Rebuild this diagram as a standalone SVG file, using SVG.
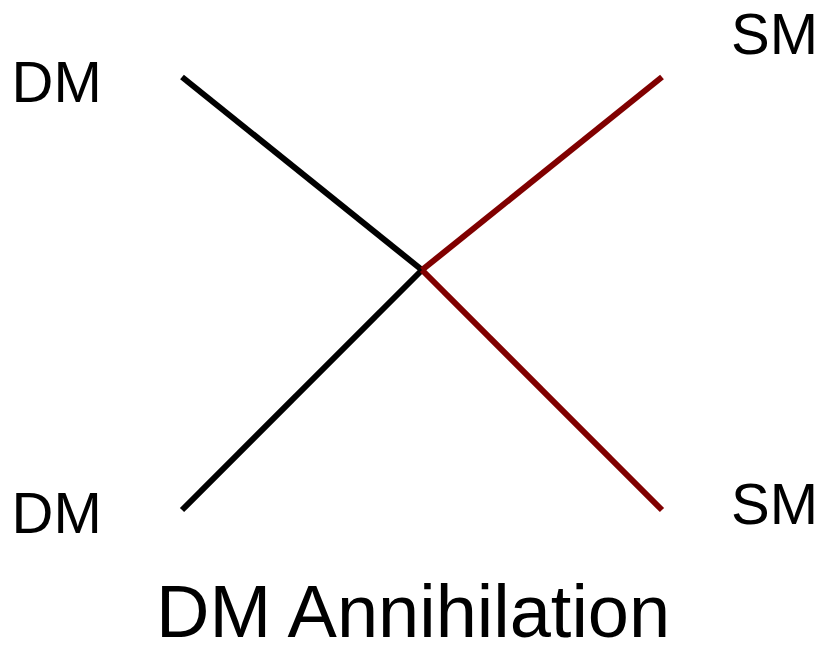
<svg xmlns="http://www.w3.org/2000/svg" width="825" height="645" viewBox="0 0 825 645">
<style>
text{font-family:"Liberation Sans",Arial,sans-serif;fill:#000}
.lbl{font-size:58px}
.title{font-size:74px}
.dm{stroke:#000;stroke-width:6;fill:none}
.sm{stroke:#800000;stroke-width:6;fill:none}
</style>
<rect width="825" height="645" fill="#fff"/>
<g id="connectors">
<line class="dm" x1="182" y1="77" x2="422" y2="270"/>
<line class="dm" x1="182" y1="510" x2="422" y2="270"/>
<line class="sm" x1="422" y1="270" x2="662" y2="77"/>
<line class="sm" x1="422" y1="270" x2="662" y2="510"/>
</g>
<g id="dm1"><text class="lbl" x="11.5" y="102">DM</text></g>
<g id="dm2"><text class="lbl" x="11.5" y="533">DM</text></g>
<g id="sm1"><text class="lbl" x="731" y="54">SM</text></g>
<g id="sm2"><text class="lbl" x="731" y="524">SM</text></g>
<g id="title"><text class="title" x="156" y="637">DM Annihilation</text></g>
</svg>
